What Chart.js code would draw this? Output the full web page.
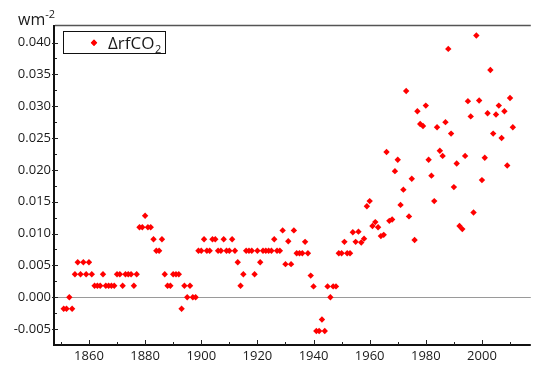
<!DOCTYPE html>
<html><head><meta charset="utf-8">
<script src="https://cdn.jsdelivr.net/npm/chart.js@4/dist/chart.umd.min.js"></script>
<style>html,body{margin:0;padding:0;background:#fff;}canvas{display:block;}</style>
</head><body>
<canvas id="c" width="534" height="365"></canvas>
<script>
const years = [
  1851,1852,1853,1854,1855,1856,1857,1858,1859,1860,
  1861,1862,1863,1864,1865,1866,1867,1868,1869,1870,
  1871,1872,1873,1874,1875,1876,1877,1878,1879,1880,
  1881,1882,1883,1884,1885,1886,1887,1888,1889,1890,
  1891,1892,1893,1894,1895,1896,1897,1898,1899,1900,
  1901,1902,1903,1904,1905,1906,1907,1908,1909,1910,
  1911,1912,1913,1914,1915,1916,1917,1918,1919,1920,
  1921,1922,1923,1924,1925,1926,1927,1928,1929,1930,
  1931,1932,1933,1934,1935,1936,1937,1938,1939,1940,
  1941,1942,1943,1944,1945,1946,1947,1948,1949,1950,
  1951,1952,1953,1954,1955,1956,1957,1958,1959,1960,
  1961,1962,1963,1964,1965,1966,1967,1968,1969,1970,
  1971,1972,1973,1974,1975,1976,1977,1978,1979,1980,
  1981,1982,1983,1984,1985,1986,1987,1988,1989,1990,
  1991,1992,1993,1994,1995,1996,1997,1998,1999,2000,
  2001,2002,2003,2004,2005,2006,2007,2008,2009,2010,
  2011
];
const drfCO2 = [
  -0.0018,-0.0018,0,-0.0018,0.0036,0.0055,0.0036,0.0055,0.0036,0.0055,
  0.0036,0.0018,0.0018,0.0018,0.0036,0.0018,0.0018,0.0018,0.0018,0.0036,
  0.0036,0.0018,0.0036,0.0036,0.0036,0.0018,0.0036,0.011,0.011,0.0128,
  0.011,0.011,0.0091,0.0073,0.0073,0.0091,0.0036,0.0018,0.0018,0.0036,
  0.0036,0.0036,-0.0018,0.0018,0,0.0018,0,0,0.0073,0.0073,
  0.0091,0.0073,0.0073,0.0091,0.0091,0.0073,0.0073,0.0091,0.0073,0.0073,
  0.0091,0.0073,0.0055,0.0018,0.0036,0.0073,0.0073,0.0073,0.0036,0.0073,
  0.0055,0.0073,0.0073,0.0073,0.0073,0.0091,0.0073,0.0073,0.0105,0.0052,
  0.0088,0.0052,0.0105,0.0069,0.0069,0.0069,0.0087,0.0069,0.0034,0.0017,
  -0.0053,-0.0053,-0.0035,-0.0053,0.0017,0,0.0017,0.0017,0.0069,0.0069,
  0.0087,0.0069,0.0069,0.0102,0.0087,0.0103,0.0086,0.0092,0.0143,0.0151,
  0.0112,0.0118,0.0110,0.0096,0.0098,0.0228,0.0120,0.0122,0.0198,0.0216,
  0.0145,0.0169,0.0324,0.0127,0.0186,0.0090,0.0292,0.0272,0.0269,0.0301,
  0.0216,0.0191,0.0151,0.0267,0.0230,0.0222,0.0275,0.0390,0.0257,0.0173,
  0.0210,0.0112,0.0107,0.0222,0.0308,0.0284,0.0133,0.0411,0.0309,0.0184,
  0.0219,0.0289,0.0357,0.0257,0.0287,0.0301,0.0250,0.0292,0.0207,0.0313,
  0.0267
];
const xTicks = [1860,1880,1900,1920,1940,1960,1980,2000];
const xMinorTicks = [1850,1870,1890,1910,1930,1950,1970,1990,2010];
const yTicks = [-0.005,0,0.005,0.010,0.015,0.020,0.025,0.030,0.035,0.040];
const yMinorTicks = [-0.0025,0.0025,0.0075,0.0125,0.0175,0.0225,0.0275,0.0325,0.0375];
const seriesLabel = 'ΔrfCO';
const seriesSub = '2';
const axisUnit = 'wm';
const axisUnitSup = '-2';

const FONT = "'Open Sans', 'DejaVu Sans', sans-serif";
const TXT = '#1a1a1a';

const points = years.map((y, i) => ({x: y, y: drfCO2[i]}));

const decor = {
  id: 'decor',
  beforeDatasetsDraw(chart) {
    const {ctx, chartArea: a, scales: {y}} = chart;
    const y0 = Math.round(y.getPixelForValue(0)) + 0.5;
    ctx.save();
    ctx.strokeStyle = '#9a9a9a';
    ctx.lineWidth = 1;
    ctx.beginPath(); ctx.moveTo(a.left, y0); ctx.lineTo(a.right, y0); ctx.stroke();
    ctx.restore();
  },
  afterDraw(chart) {
    const {ctx, chartArea: a, scales: {x, y}} = chart;
    ctx.save();
    // top border
    ctx.strokeStyle = '#555';
    ctx.lineWidth = 1.5;
    ctx.beginPath(); ctx.moveTo(a.left, a.top - 0.5); ctx.lineTo(a.right, a.top - 0.5); ctx.stroke();
    // axes
    ctx.strokeStyle = '#111';
    ctx.lineWidth = 2;
    ctx.beginPath(); ctx.moveTo(a.left - 1, a.top - 1); ctx.lineTo(a.left - 1, a.bottom); ctx.stroke();
    ctx.beginPath(); ctx.moveTo(a.left - 2, a.bottom); ctx.lineTo(a.right, a.bottom); ctx.stroke();
    // ticks
    ctx.lineWidth = 1;
    ctx.strokeStyle = '#222';
    ctx.beginPath();
    xTicks.forEach(v => { const p = Math.round(x.getPixelForValue(v)) + 0.5; ctx.moveTo(p, a.bottom); ctx.lineTo(p, a.bottom - 5); });
    xMinorTicks.forEach(v => { const p = Math.round(x.getPixelForValue(v)) + 0.5; ctx.moveTo(p, a.bottom); ctx.lineTo(p, a.bottom - 3); });
    yTicks.forEach(v => { const p = Math.round(y.getPixelForValue(v)) + 0.5; ctx.moveTo(a.left - 3, p); ctx.lineTo(a.left + 3, p); });
    yMinorTicks.forEach(v => { const p = Math.round(y.getPixelForValue(v)) + 0.5; ctx.moveTo(a.left, p); ctx.lineTo(a.left + 2, p); });
    ctx.stroke();
    // axis unit title
    ctx.fillStyle = TXT;
    ctx.textBaseline = 'alphabetic';
    ctx.textAlign = 'left';
    ctx.font = '16px ' + FONT;
    ctx.fillText(axisUnit, 18, 25);
    const wW = ctx.measureText(axisUnit).width;
    ctx.font = '11px ' + FONT;
    ctx.fillText(axisUnitSup, 18 + wW, 18);
    // legend
    const lx = 63.5, ly = 31.5, lw = 102, lh = 22;
    ctx.fillStyle = '#fff';
    ctx.fillRect(lx, ly, lw, lh);
    ctx.strokeStyle = '#111';
    ctx.lineWidth = 1;
    ctx.strokeRect(lx, ly, lw, lh);
    ctx.fillStyle = '#ff0000';
    Chart.helpers.drawPoint(ctx, {pointStyle: 'rectRot', radius: 3.2, borderWidth: 0}, 94, 42.7);
    ctx.fill();
    ctx.fillStyle = TXT;
    ctx.font = '17px ' + FONT;
    ctx.fillText(seriesLabel, 108, 49);
    const tw = ctx.measureText(seriesLabel).width;
    ctx.font = '11px ' + FONT;
    ctx.fillText(seriesSub, 108 + tw + 0.5, 53);
    ctx.restore();
  }
};

new Chart(document.getElementById('c'), {
  type: 'scatter',
  data: {
    datasets: [{
      label: seriesLabel + seriesSub,
      data: points,
      pointStyle: 'rectRot',
      pointRadius: 3.2,
      pointHoverRadius: 3.2,
      pointBorderWidth: 0,
      backgroundColor: '#ff0000',
      borderColor: '#ff0000'
    }]
  },
  options: {
    responsive: false,
    devicePixelRatio: 1,
    animation: false,
    events: [],
    layout: {padding: {top: 26, right: 0, left: 0, bottom: 0}},
    plugins: {legend: {display: false}, tooltip: {enabled: false}},
    scales: {
      x: {
        type: 'linear', position: 'bottom',
        min: 1847.9, max: 2017.4,
        grid: {display: false, drawTicks: false},
        border: {display: false},
        afterBuildTicks: s => { s.ticks = xTicks.map(v => ({value: v})); },
        afterFit: s => { s.height = 20; },
        ticks: {
          autoSkip: false, maxRotation: 0, padding: 3,
          color: TXT, font: {family: FONT, size: 13},
          callback: v => String(v)
        }
      },
      y: {
        type: 'linear', position: 'left',
        min: -0.0075, max: 0.0426,
        grid: {display: false, drawTicks: false},
        border: {display: false},
        afterBuildTicks: s => { s.ticks = yTicks.map(v => ({value: v})); },
        afterFit: s => { s.width = 55; },
        ticks: {
          autoSkip: false, padding: 4,
          color: TXT, font: {family: FONT, size: 13},
          callback: v => v.toFixed(3)
        }
      }
    }
  },
  plugins: [decor]
});
</script>
</body></html>
